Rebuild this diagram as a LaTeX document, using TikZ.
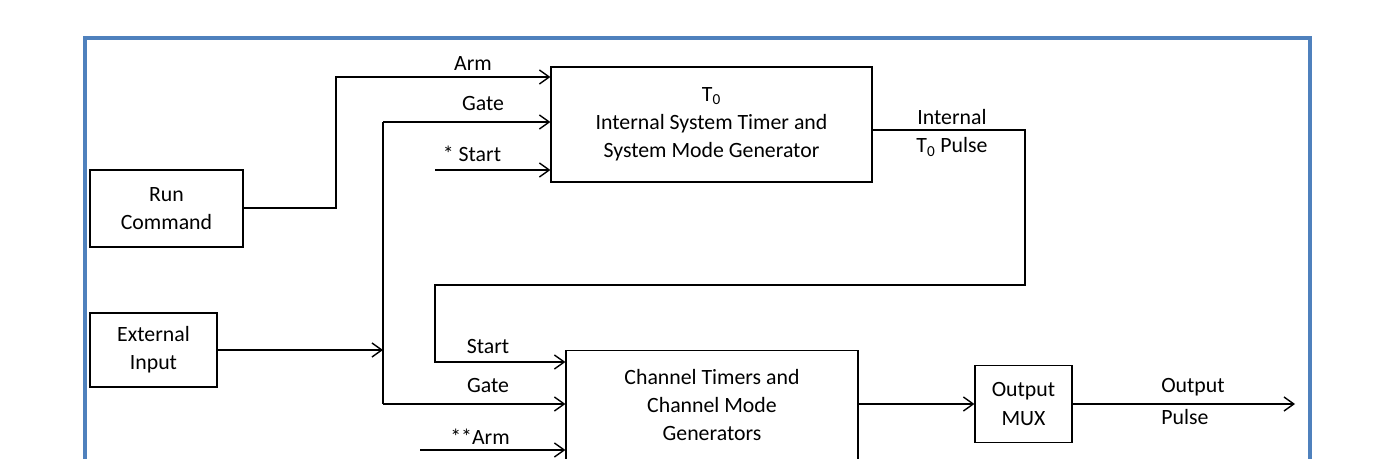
\documentclass[tikz,border=0pt]{standalone}
\usepackage{fontspec}
\setmainfont{Carlito}
\usetikzlibrary{arrows.meta}
\definecolor{frameblue}{RGB}{79,129,189}
\tikzset{
  block/.style={draw, line width=0.8pt, inner sep=0pt, align=center},
  wire/.style={line width=1pt},
  arr/.style={wire, -{Straight Barb[length=7pt,width=10pt]}},
  lbl/.style={inner sep=0pt}
}
\begin{document}
\begin{tikzpicture}[x=0.025cm, y=-0.025cm, font=\fontsize{15.5}{20}\selectfont]
\useasboundingbox (0,0) rectangle (1390,459);
\draw[frameblue, line width=2.2pt] (85,38) rectangle (1310,480);
% blocks
\node[block, minimum width=153*0.025cm, minimum height=77*0.025cm] (run) at (166.5,208.5) {Run\\Command};
\node[block, minimum width=127*0.025cm, minimum height=74*0.025cm] (ext) at (153.5,350) {External\\Input};
\node[block, minimum width=321*0.025cm, minimum height=115*0.025cm] (tzero) at (711.5,124.5) {T\textsubscript{0}\\Internal System Timer and\\System Mode Generator};
\node[block, minimum width=292*0.025cm, minimum height=120*0.025cm, anchor=north] (chan) at (712,350) {};
\node[lbl, align=center] at (712,405) {Channel Timers and\\Channel Mode\\Generators};
\node[block, minimum width=97*0.025cm, minimum height=77*0.025cm] (mux) at (1023.5,404) {Output\\MUX};
% free ends
\coordinate (armturn) at (336,208);
\coordinate (gtop) at (383,122);
\coordinate (gbot) at (383,404);
\coordinate (sstart) at (435,170);
\coordinate (aarm) at (420,450);
\coordinate (out) at (1295,404);
% connectors
\draw[arr] (run.east |- armturn) -- (armturn) |- (tzero.west |- 0,77);
\draw[arr] (gtop) -- (tzero.west |- gtop);
\draw[wire] (gtop) -- (gbot);
\draw[arr] (sstart) -- (tzero.west |- sstart);
\draw[arr] (ext.east) -- (gbot |- ext.east);
\draw[arr] (gbot) -- (chan.west |- gbot);
\draw[arr] (tzero.east |- 0,130) -| (1025,285) -| (435,362) -- (chan.west |- 0,362);
\draw[arr] (aarm) -- (chan.west |- aarm);
\draw[arr] (chan.east |- mux.west) -- (mux.west);
\draw[arr] (mux.east) -- (out);
% labels
\node[lbl] at (473,64) {Arm};
\node[lbl] at (483,104) {Gate};
\node[lbl] at (472,154) {* Start};
\node[lbl] at (952,117) {Internal};
\node[lbl] at (952,147) {T\textsubscript{0} Pulse};
\node[lbl] at (488,347) {Start};
\node[lbl] at (488,386) {Gate};
\node[lbl] at (480,437) {**Arm};
\node[lbl] at (1193,387) {Output};
\node[lbl] at (1185,417) {Pulse};
\end{tikzpicture}
\end{document}
